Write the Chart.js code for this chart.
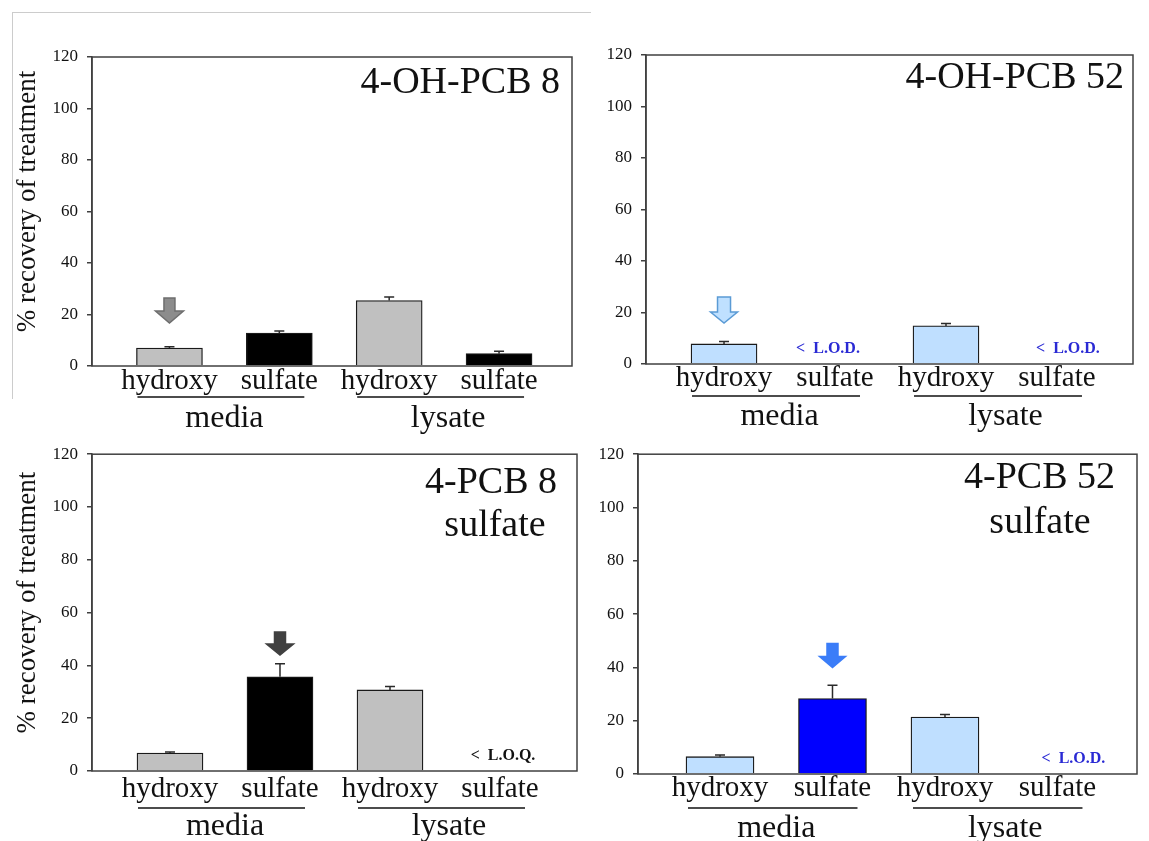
<!DOCTYPE html>
<html>
<head>
<meta charset="utf-8">
<script src="https://cdn.jsdelivr.net/npm/chart.js@4/dist/chart.umd.min.js"></script>
<style>
body { margin: 0; background: #fff; width: 1149px; height: 841px; position: relative; overflow: hidden; }
canvas { position: absolute; }
#frame { position: absolute; left: 12px; top: 12px; width: 578px; height: 386px; border-top: 1px solid #cccccc; border-left: 1px solid #cccccc; }
</style>
</head>
<body>
<div id="frame"></div>
<canvas id="c1" width="590" height="420" style="left:0px;top:15px"></canvas>
<canvas id="c2" width="559" height="420" style="left:590px;top:15px"></canvas>
<canvas id="c3" width="590" height="406" style="left:0px;top:435px"></canvas>
<canvas id="c4" width="559" height="406" style="left:590px;top:435px"></canvas>
<script>
// categories
var forms = ['hydroxy', 'sulfate', 'hydroxy', 'sulfate'];
var groups = ['media', 'lysate'];
var yTicks = [0, 20, 40, 60, 80, 100, 120];

// % recovery (bar height) and top of the error bar, per category
var oh8Values = [7.0, 12.8, 25.4, 4.8];
var oh8ErrTop = [7.5, 13.6, 26.8, 5.7];
var oh52Values = [7.8, null, 14.8, null];
var oh52ErrTop = [8.7, null, 15.7, null];
var s8Values = [6.8, 35.7, 30.7, null];
var s8ErrTop = [7.2, 40.6, 32.0, null];
var s52Values = [6.5, 28.3, 21.4, null];
var s52ErrTop = [7.1, 33.3, 22.3, null];

var gray = '#c0c0c0', black = '#000000', lightBlue = '#bfdfff', blue = '#0000ff';
var serif = '"Liberation Serif", "Times New Roman", serif';

var panels = [
    {
        id: 'c1', left: 0, top: 15, width: 590, height: 420,
        area: {left: 92, top: 57, right: 572, bottom: 366}, xMin: 0.295, xMax: 4.664, barW: 66,
        values: oh8Values, errTop: oh8ErrTop, colors: [gray, black, gray, black],
        yTitle: true,
        titles: [{text: '4-OH-PCB 8', align: 'right', dx: 12, dy: 36}],
        arrow: {index: 0, tip: 16.7, len: 25, headW: 28, shaftW: 11, headH: 12, fill: '#8c8c8c', stroke: '#6e6e6e'},
        notes: [],
        labelY: 23, lineY: 31, groupY: 61
    },
    {
        id: 'c2', left: 590, top: 15, width: 559, height: 420,
        area: {left: 646, top: 55, right: 1133, bottom: 364}, xMin: 0.297, xMax: 4.685, barW: 66,
        values: oh52Values, errTop: oh52ErrTop, colors: [lightBlue, lightBlue, lightBlue, lightBlue],
        yTitle: false,
        titles: [{text: '4-OH-PCB 52', align: 'right', dx: 9, dy: 33}],
        arrow: {index: 0, tip: 15.9, len: 26, headW: 27, shaftW: 13, headH: 11, fill: '#bfe0ff', stroke: '#5b9bd5'},
        notes: [{index: 1, text: '<  L.O.D.', dx: -7, color: '#2a2ad4'}, {index: 3, text: '<  L.O.D.', dx: 11, color: '#2a2ad4'}],
        labelY: 22, lineY: 32, groupY: 61
    },
    {
        id: 'c3', left: 0, top: 435, width: 590, height: 406,
        area: {left: 92, top: 448, right: 577, bottom: 771}, xMin: 0.291, xMax: 4.7, barW: 66,
        values: s8Values, errTop: s8ErrTop, colors: [gray, black, gray, black],
        yTitle: true,
        titles: [{text: '4-PCB 8', align: 'right', dx: 20, dy: 39}, {text: 'sulfate', align: 'center', dx: 82, dy: 82}],
        arrow: {index: 1, tip: 43.9, len: 23, headW: 27, shaftW: 11, headH: 11, fill: '#404040', stroke: '#404040'},
        notes: [{index: 3, text: '<  L.O.Q.', dx: 3, color: '#111111'}],
        labelY: 26, lineY: 37, groupY: 64
    },
    {
        id: 'c4', left: 590, top: 435, width: 559, height: 406,
        area: {left: 638, top: 453, right: 1137, bottom: 774}, xMin: 0.271, xMax: 4.707, barW: 68,
        values: s52Values, errTop: s52ErrTop, colors: [lightBlue, blue, lightBlue, blue],
        yTitle: false,
        titles: [{text: '4-PCB 52', align: 'right', dx: 22, dy: 34}, {text: 'sulfate', align: 'center', dx: 97, dy: 79}],
        arrow: {index: 1, tip: 40.0, len: 24, headW: 26, shaftW: 11, headH: 11, fill: '#3b7df8', stroke: '#3b7df8'},
        notes: [{index: 3, text: '<  L.O.D.', dx: 16, color: '#2a2ad4'}],
        labelY: 22, lineY: 34, groupY: 63
    }
];

var Y_WIDTH = 40;

function drawArrow(ctx, x, yTip, a) {
    var hw = a.headW / 2, sw = a.shaftW / 2;
    var top = yTip - a.len, neck = yTip - a.headH;
    ctx.beginPath();
    ctx.moveTo(x - sw, top);
    ctx.lineTo(x + sw, top);
    ctx.lineTo(x + sw, neck);
    ctx.lineTo(x + hw, neck);
    ctx.lineTo(x, yTip);
    ctx.lineTo(x - hw, neck);
    ctx.lineTo(x - sw, neck);
    ctx.closePath();
    ctx.fillStyle = a.fill;
    ctx.fill();
    ctx.strokeStyle = a.stroke;
    ctx.lineWidth = 1.5;
    ctx.stroke();
}

var extras = {
    id: 'extras',
    afterDatasetsDraw: function(chart) {
        var p = chart.options.plugins.extras.panel;
        var ctx = chart.ctx, xs = chart.scales.x, ys = chart.scales.y;
        ctx.save();
        // error bars (upper only)
        ctx.strokeStyle = '#2a2a2a';
        ctx.lineWidth = 1.5;
        p.errTop.forEach(function(e, i) {
            if (e == null) return;
            var x = xs.getPixelForValue(i + 1);
            var y0 = ys.getPixelForValue(p.values[i]);
            var y1 = ys.getPixelForValue(e);
            ctx.beginPath();
            ctx.moveTo(x, y0);
            ctx.lineTo(x, y1);
            ctx.moveTo(x - 5, y1);
            ctx.lineTo(x + 5, y1);
            ctx.stroke();
        });
        // arrow marker
        var a = p.arrow;
        drawArrow(ctx, xs.getPixelForValue(a.index + 1), ys.getPixelForValue(a.tip), a);
        ctx.restore();
    },
    afterDraw: function(chart) {
        var p = chart.options.plugins.extras.panel;
        var ctx = chart.ctx, xs = chart.scales.x;
        var ca = chart.chartArea;
        ctx.save();
        // box
        ctx.strokeStyle = '#404040';
        ctx.lineWidth = 1.5;
        ctx.strokeRect(ca.left, ca.top, ca.right - ca.left, ca.bottom - ca.top);

        ctx.fillStyle = '#111';
        ctx.textBaseline = 'alphabetic';
        // category labels
        ctx.font = '29px ' + serif;
        ctx.textAlign = 'center';
        forms.forEach(function(f, i) {
            ctx.fillText(f, xs.getPixelForValue(i + 1), ca.bottom + p.labelY);
        });
        // group underlines and names
        ctx.strokeStyle = '#111';
        ctx.lineWidth = 1.3;
        ctx.font = '32px ' + serif;
        groups.forEach(function(g, k) {
            var xa = xs.getPixelForValue(2 * k + 1), xb = xs.getPixelForValue(2 * k + 2);
            ctx.beginPath();
            ctx.moveTo(xa - 32, ca.bottom + p.lineY);
            ctx.lineTo(xb + 25, ca.bottom + p.lineY);
            ctx.stroke();
            ctx.fillText(g, (xa + xb) / 2 + k * 4, ca.bottom + p.groupY);
        });
        // titles in the box
        ctx.font = '38px ' + serif;
        p.titles.forEach(function(t) {
            ctx.textAlign = t.align;
            ctx.fillText(t.text, ca.right - t.dx, ca.top + t.dy);
        });
        // detection limit notes
        ctx.font = 'bold 16px ' + serif;
        ctx.textAlign = 'center';
        p.notes.forEach(function(n) {
            ctx.fillStyle = n.color;
            ctx.fillText(n.text, xs.getPixelForValue(n.index + 1) + n.dx, ca.bottom - 11);
        });
        // y title
        if (p.yTitle) {
            ctx.fillStyle = '#111';
            ctx.font = '27px ' + serif;
            ctx.translate(28, (ca.top + ca.bottom) / 2 - 10);
            ctx.rotate(-Math.PI / 2);
            ctx.textAlign = 'center';
            ctx.textBaseline = 'middle';
            ctx.fillText('% recovery of treatment', 0, 0);
        }
        ctx.restore();
    }
};

function makePanel(p) {
    // move absolute page coordinates into this canvas
    var area = {
        left: p.area.left - p.left, right: p.area.right - p.left,
        top: p.area.top - p.top, bottom: p.area.bottom - p.top
    };
    var q = Object.assign({}, p, {area: area});
    return new Chart(document.getElementById(p.id), {
        type: 'bar',
        data: {
            datasets: [{
                data: p.values.map(function(v, i) { return {x: i + 1, y: v}; }),
                backgroundColor: p.colors,
                borderColor: '#1a1a1a',
                borderWidth: 1.3,
                barThickness: p.barW
            }]
        },
        options: {
            responsive: false,
            animation: false,
            devicePixelRatio: 1,
            layout: {
                padding: {
                    left: area.left - Y_WIDTH,
                    top: area.top,
                    right: p.width - area.right,
                    bottom: p.height - area.bottom
                }
            },
            plugins: {
                legend: {display: false},
                tooltip: {enabled: false},
                extras: {panel: q}
            },
            scales: {
                x: {
                    type: 'linear',
                    display: false,
                    offset: false,
                    grid: {offset: false},
                    min: p.xMin,
                    max: p.xMax
                },
                y: {
                    min: 0,
                    max: 120,
                    afterFit: function(s) { s.width = Y_WIDTH; },
                    afterBuildTicks: function(s) { s.ticks = yTicks.map(function(v) { return {value: v}; }); },
                    grid: {drawOnChartArea: false, drawTicks: true, tickLength: 5, color: '#404040', lineWidth: 1.5},
                    border: {display: true, color: '#404040', width: 1.5},
                    ticks: {font: {family: serif, size: 17}, color: '#111', padding: 9}
                }
            }
        },
        plugins: [extras]
    });
}

panels.forEach(makePanel);
</script>
</body>
</html>
